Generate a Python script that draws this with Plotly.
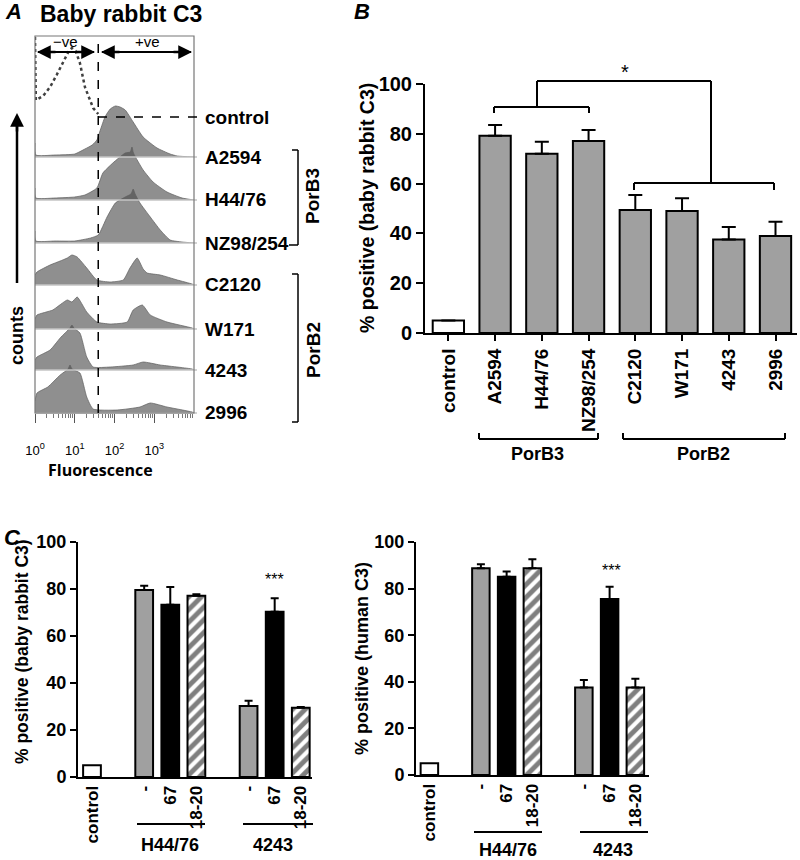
import plotly.graph_objects as go

W, H = 800, 860


def px(x):
    return x / W


def py(y):
    return 1 - y / H


FONT = "Liberation Sans, Arial, sans-serif"

# ---------------- panel A: flow cytometry histograms ----------------
# fluorescence (linear units, log axis) and counts
control_fl = [1, 1.05, 1.6, 2.4, 3.5, 5, 7.1, 8.5, 10.5, 13.5, 18, 29, 39]
control_ct = [80, 17, 21, 30, 42, 54, 66, 69, 66, 54, 30, 9, 3]

a2594_fl = [1, 1.05, 3.2, 10, 18, 27.5, 36, 44, 57.5, 78, 105, 138, 186, 295, 525, 1175, 2512, 3800, 10000]
a2594_ct = [14, 2, 2, 3, 8, 12, 17, 27, 40, 48, 51, 50, 47, 35, 20, 9, 3, 1, 0]

h4476_fl = [1, 1.05, 3.2, 10, 18, 36, 51, 91, 186, 250, 275, 300, 372, 525, 933, 2089, 5012, 10000]
h4476_ct = [12, 2, 2, 3, 5, 12, 27, 37, 47, 48, 53, 47, 40, 30, 18, 8, 2, 0]

nz98_fl = [1, 1.05, 3.2, 10, 25, 39, 65, 105, 186, 260, 295, 330, 437, 794, 1413, 2512, 5012, 10000]
nz98_ct = [12, 2, 2, 2, 5, 8, 26, 40, 46, 49, 54, 49, 40, 26, 13, 3, 1, 0]

c2120_fl = [1, 1.12, 2.4, 4.3, 6.5, 8.5, 11.5, 20, 36, 78, 166, 245, 372, 525, 660, 1413, 3800, 8913, 10000]
c2120_ct = [10, 13, 20, 24, 27, 30, 28, 17, 5, 3, 5, 17, 27, 16, 12, 10, 5, 1, 0]

w171_fl = [1, 1.12, 2.8, 6.5, 8.5, 11.5, 20, 36, 78, 209, 295, 500, 794, 2089, 8913, 10000]
w171_ct = [10, 14, 19, 29, 27, 32, 17, 7, 5, 7, 19, 24, 14, 7, 1, 0]

s4243_fl = [1, 1.12, 2.4, 4.3, 7.6, 8.5, 9.5, 13.5, 20, 29, 78, 295, 525, 1413, 8913, 10000]
s4243_ct = [10, 13, 20, 32, 42, 45, 42, 37, 13, 3, 3, 5, 8, 5, 1, 0]

s2996_fl = [1, 1.12, 2.1, 4.3, 6.8, 7.6, 8.5, 13.5, 20, 29, 117, 437, 794, 2089, 8913, 10000]
s2996_ct = [12, 20, 26, 38, 44, 48, 44, 40, 16, 4, 3, 6, 10, 6, 1, 0]

lane_names = ["control", "A2594", "H44/76", "NZ98/254", "C2120", "W171", "4243", "2996"]
lane_data = [(control_fl, control_ct), (a2594_fl, a2594_ct), (h4476_fl, h4476_ct),
             (nz98_fl, nz98_ct), (c2120_fl, c2120_ct), (w171_fl, w171_ct),
             (s4243_fl, s4243_ct), (s2996_fl, s2996_ct)]
gate_fl = 39  # -ve / +ve cut-off
fl_ticks = [1, 10, 100, 1000]
fl_ticktext = ["10<sup>0</sup>", "10<sup>1</sup>", "10<sup>2</sup>", "10<sup>3</sup>"]

# ---------------- panel B ----------------
b_strains = ["control", "A2594", "H44/76", "NZ98/254", "C2120", "W171", "4243", "2996"]
b_pct = [5, 79.2, 72.0, 77.1, 49.4, 49.0, 37.6, 39.0]
b_sem = [0, 4.3, 4.8, 4.4, 6.0, 5.1, 5.0, 5.7]

# ---------------- panel C ----------------
c_groups = ["H44/76", "4243"]
c_treat = ["-", "67", "18-20"]
rabbit_control = [5]
rabbit_none = [79.6, 30.2]
rabbit_none_sem = [1.8, 2.3]
rabbit_67 = [73.3, 70.3]
rabbit_67_sem = [7.6, 5.8]
rabbit_1820 = [77.1, 29.5]
rabbit_1820_sem = [0.7, 0.3]
human_control = [5]
human_none = [88.7, 37.6]
human_none_sem = [1.7, 3.2]
human_67 = [85.1, 75.5]
human_67_sem = [2.2, 5.3]
human_1820 = [88.7, 37.6]
human_1820_sem = [3.9, 3.7]

fig = go.Figure()
shapes = []
annots = []


def line(x0, y0, x1, y1, w=2, color="black", dash=None):
    shapes.append(dict(type="line", xref="paper", yref="paper",
                       x0=px(x0), y0=py(y0), x1=px(x1), y1=py(y1),
                       line=dict(color=color, width=w, dash=dash)))


def text(x, y, s, size=18, bold=True, angle=0, xanchor="center", family=FONT, italic=False):
    annots.append(dict(x=px(x), y=py(y), xref="paper", yref="paper", text=s,
                       showarrow=False, textangle=angle, xanchor=xanchor, yanchor="middle",
                       font=dict(family=family, size=size, color="black",
                                 weight="bold" if bold else "normal",
                                 style="italic" if italic else "normal")))


def arrow(xh, yh, dx, dy, w=2.5):
    annots.append(dict(x=px(xh), y=py(yh), xref="paper", yref="paper", text="",
                       showarrow=True, ax=dx, ay=dy, arrowhead=2, arrowsize=1.1,
                       arrowwidth=w, arrowcolor="black"))


# ---- panel A layout ----
baselines = [117, 157, 200, 243, 285, 329, 370, 413]
lane_h = 80
for i, (name, (fl, ct)) in enumerate(zip(lane_names, lane_data)):
    yid = "y" if i == 0 else f"y{i + 1}"
    if i == 0:
        fig.add_trace(go.Scatter(x=fl, y=ct, xaxis="x", yaxis=yid, mode="lines",
                                 line=dict(color="#404040", width=2.5, dash="dot"),
                                 hoverinfo="skip"))
    else:
        fig.add_trace(go.Scatter(x=fl, y=ct, xaxis="x", yaxis=yid, mode="lines",
                                 line=dict(color="rgba(95,95,95,0.9)", width=0.8,
                                           shape="spline", smoothing=0.5),
                                 fill="tozeroy", fillcolor="rgba(75,75,75,0.62)",
                                 hoverinfo="skip"))
    b = baselines[i]
    fig.layout[("yaxis" if i == 0 else f"yaxis{i + 1}")] = dict(
        domain=[py(b), py(b - lane_h)], range=[0, lane_h], visible=False,
        anchor="x", fixedrange=True)
    text(203, b, name, size=19, xanchor="left")
    if i > 0:
        line(35, b, 197, b, w=1.5, color="#c4c4c4")

minor_vals = [m * 10 ** d for d in range(4) for m in range(2, 10)]
fig.update_layout(xaxis=dict(domain=[px(35), px(194)], type="log", range=[0, 4],
                             anchor="y8", showline=False, showgrid=False, zeroline=False,
                             tickvals=fl_ticks, ticktext=fl_ticktext, ticks="outside",
                             ticklen=9, tickwidth=1, tickcolor="#555",
                             ticklabelstandoff=16, fixedrange=True,
                             tickfont=dict(family=FONT, size=13, color="black"),
                             minor=dict(tickvals=minor_vals, ticks="outside", ticklen=4,
                                        tickwidth=1, tickcolor="#777")))

# box, gate line and control baseline
shapes.append(dict(type="rect", xref="paper", yref="paper", x0=px(35), x1=px(194),
                   y0=py(413), y1=py(36), line=dict(color="#777", width=1.2)))
shapes.append(dict(type="line", xref="x", yref="paper", x0=gate_fl, x1=gate_fl,
                   y0=py(413), y1=py(36), line=dict(color="black", width=1.5, dash="dash")))
line(98, 117, 200, 117, w=1.5, dash="dash")

text(13, 12, "A", size=22, italic=True)
text(38, 14, "Baby rabbit C3", size=23, xanchor="left")
text(65, 41, "\u2212ve", size=15, bold=False)
text(147, 41, "+ve", size=15, bold=False)
line(38, 52, 94, 52, w=2)
line(102, 52, 191, 52, w=2)
arrow(37, 52, 20, 0)
arrow(95, 52, -20, 0)
arrow(101, 52, 20, 0)
arrow(192, 52, -20, 0)
line(17, 283, 17, 118, w=2.5)
arrow(17, 113, 0, 20)
text(17, 336, "counts", size=18, angle=-90)
text(100, 470, "Fluorescence", size=16, family="Open Sans, sans-serif")

# PorB brackets beside histograms
line(292, 150, 298, 150, w=1.5)
line(298, 150, 298, 245, w=1.5)
line(289, 245, 298, 245, w=1.5)
line(292, 274, 298, 274, w=1.5)
line(298, 274, 298, 422, w=1.5)
line(292, 422, 298, 422, w=1.5)
text(313, 196, "PorB3", size=19, angle=-90)
text(313, 350, "PorB2", size=19, angle=-90)

# ---- panel B ----
b_x = list(range(len(b_strains)))
b_colors = ["white"] + ["#a0a0a0"] * (len(b_strains) - 1)
fig.add_trace(go.Bar(x=b_x, y=b_pct, xaxis="x2", yaxis="y9", width=0.67,
                     marker=dict(color=b_colors, line=dict(color="black", width=2)),
                     error_y=dict(type="data", symmetric=False, array=b_sem,
                                  arrayminus=[0] * len(b_sem), color="black",
                                  thickness=2, width=7),
                     hoverinfo="skip"))

axis_common = dict(showgrid=False, zeroline=False, showline=True, linecolor="black",
                   linewidth=2, fixedrange=True)
fig.update_layout(
    xaxis2=dict(domain=[px(425), px(797)], range=[-0.5, 7.46], anchor="y9",
                tickvals=b_x, ticktext=b_strains, tickangle=-90, ticks="outside",
                ticklen=6, tickwidth=2, tickcolor="black",
                tickfont=dict(family=FONT, size=19, color="black", weight="bold"),
                **axis_common),
    yaxis9=dict(domain=[py(333), py(84)], range=[0, 100], anchor="x2",
                tickvals=[0, 20, 40, 60, 80, 100], ticks="outside", ticklen=7,
                tickwidth=2, tickcolor="black",
                tickfont=dict(family=FONT, size=20, color="black", weight="bold"),
                **axis_common),
)
text(362, 12, "B", size=22, italic=True)
text(367, 208, "% positive (baby rabbit C3)", size=19.5, angle=-90)

# significance brackets
line(494, 113, 494, 107)
line(494, 107, 589, 107)
line(589, 107, 589, 113)
line(537, 107, 537, 81)
line(537, 81, 711, 81)
line(711, 81, 711, 183)
line(634, 190, 634, 183)
line(634, 183, 774, 183)
line(774, 183, 774, 190)
text(625, 72, "*", size=20, bold=False)

# PorB group brackets
line(479, 433, 479, 439)
line(479, 439, 598, 439)
line(598, 439, 598, 433)
line(623, 433, 623, 439)
line(623, 439, 785, 439)
line(785, 439, 785, 433)
text(537, 454, "PorB3", size=18)
text(703, 454, "PorB2", size=18)

# ---- panel C ----
c_slots_ctrl = [0]
c_slots = {t: [2 + 4 * g + k for g in range(len(c_groups))] for k, t in enumerate(c_treat)}
c_tickvals = [0] + sorted(v for vs in c_slots.values() for v in vs)
c_ticktext = ["control"] + c_treat * len(c_groups)


def c_bars(xa, ya, ctrl, none, none_sem, t67, t67_sem, t1820, t1820_sem):
    common = dict(xaxis=xa, yaxis=ya, width=0.68, hoverinfo="skip")
    eb = dict(type="data", symmetric=False, color="black", thickness=2, width=4)
    fig.add_trace(go.Bar(x=c_slots_ctrl, y=ctrl,
                         marker=dict(color="white", line=dict(color="black", width=2)),
                         **common))
    fig.add_trace(go.Bar(x=c_slots["-"], y=none,
                         marker=dict(color="#a0a0a0", line=dict(color="black", width=2)),
                         error_y=dict(array=none_sem, arrayminus=[0, 0], **eb), **common))
    fig.add_trace(go.Bar(x=c_slots["67"], y=t67,
                         marker=dict(color="black", line=dict(color="black", width=2)),
                         error_y=dict(array=t67_sem, arrayminus=[0, 0], **eb), **common))
    fig.add_trace(go.Bar(x=c_slots["18-20"], y=t1820,
                         marker=dict(color="white", line=dict(color="black", width=2),
                                     pattern=dict(shape="/", fgcolor="black", bgcolor="white",
                                                  size=9, solidity=0.55)),
                         error_y=dict(array=t1820_sem, arrayminus=[0, 0], **eb), **common))


c_bars("x3", "y10", rabbit_control, rabbit_none, rabbit_none_sem, rabbit_67, rabbit_67_sem,
       rabbit_1820, rabbit_1820_sem)
c_bars("x4", "y11", human_control, human_none, human_none_sem, human_67, human_67_sem,
       human_1820, human_1820_sem)

c_x = dict(tickvals=c_tickvals, ticktext=c_ticktext, tickangle=-90, ticks="",
           tickfont=dict(family=FONT, size=17, color="black", weight="bold"), **axis_common)
c_y = dict(range=[0, 100], tickvals=[0, 20, 40, 60, 80, 100], ticks="outside", ticklen=6,
           tickwidth=2, tickcolor="black",
           tickfont=dict(family=FONT, size=18, color="black", weight="bold"), **axis_common)
fig.update_layout(
    xaxis3=dict(domain=[px(78), px(312)], range=[-0.536, 8.43], anchor="y10", **c_x),
    yaxis10=dict(domain=[py(777), py(542)], anchor="x3", **c_y),
    xaxis4=dict(domain=[px(416), px(649)], range=[-0.52, 8.53], anchor="y11", **c_x),
    yaxis11=dict(domain=[py(775), py(542)], anchor="x4", **c_y),
)
text(12, 537, "C", size=22, italic=True)
text(22, 652, "% positive (baby rabbit C3)", size=17.5, angle=-90)
text(362, 659, "% positive (human C3)", size=18, angle=-90)
text(274, 579, "***", size=16, bold=False)
text(611, 570, "***", size=16, bold=False)

line(137, 824, 205, 824)
line(243, 824, 313, 824)
text(170, 845, "H44/76", size=18)
text(273, 845, "4243", size=18)
line(474, 832, 542, 832)
line(580, 832, 648, 832)
text(508, 850, "H44/76", size=18)
text(613, 850, "4243", size=18)

fig.update_layout(width=W, height=H, autosize=False,
                  margin=dict(l=0, r=0, t=0, b=0, autoexpand=False),
                  paper_bgcolor="white", plot_bgcolor="rgba(0,0,0,0)", showlegend=False,
                  barmode="overlay", shapes=shapes, annotations=annots)
# drop the default 8px page margin so the 800x860 figure fills the window exactly
fig.write_html("out.html", config={"displayModeBar": False},
               post_script="document.body.style.margin='0px';")
